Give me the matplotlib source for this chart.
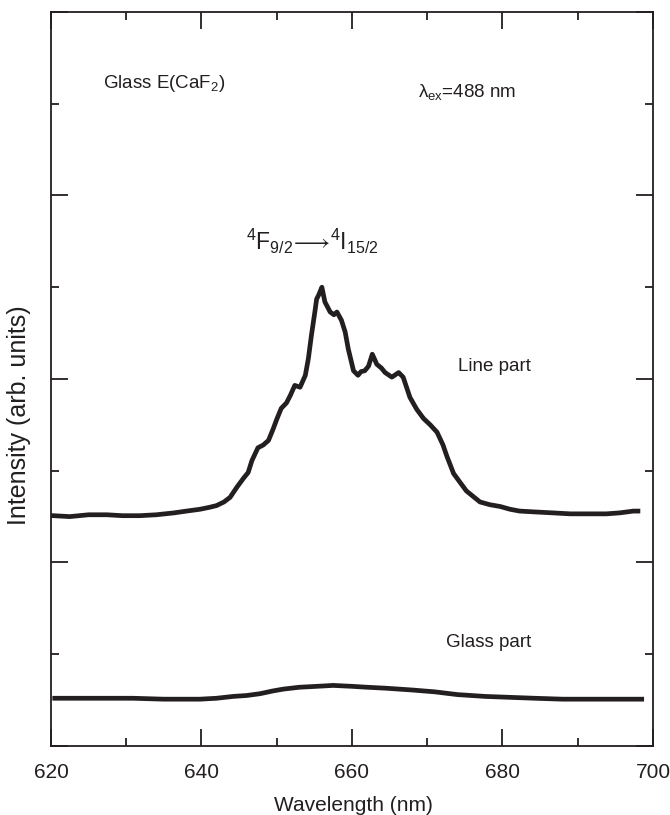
import matplotlib.pyplot as plt
from matplotlib.ticker import MultipleLocator

plt.rcParams['font.family'] = ['Liberation Sans', 'DejaVu Sans']
plt.rcParams['mathtext.fontset'] = 'custom'
plt.rcParams['mathtext.rm'] = 'Liberation Sans'
plt.rcParams['mathtext.it'] = 'Liberation Sans:italic'

line_wl = [620.3, 622.5, 625.0, 627.4, 629.5, 631.8, 634.0, 636.3, 638.0, 639.8,
           641.0, 642.0, 643.0, 643.8, 644.7, 645.6, 646.2, 646.7, 647.5, 648.2,
           648.9, 649.5, 650.0, 650.6, 651.3, 651.8, 652.4, 653.1, 653.8, 654.2,
           654.6, 655.1, 655.3, 655.6, 656.0, 656.4, 657.1, 657.6, 658.0, 658.6,
           659.1, 659.5, 660.2, 660.8, 661.2, 661.7, 662.2, 662.7, 663.3, 663.9,
           664.4, 665.3, 666.2, 666.8, 667.7, 668.6, 669.5, 670.4, 671.3, 672.1,
           672.6, 673.5, 674.3, 675.2, 676.1, 677.0, 678.3, 679.7, 681.0, 682.3,
           684.5, 686.8, 689.0, 691.2, 693.8, 695.5, 697.4, 698.0]
line_int = [2.51, 2.50, 2.52, 2.52, 2.51, 2.51, 2.52, 2.54, 2.56, 2.58,
            2.60, 2.62, 2.66, 2.71, 2.82, 2.92, 2.98, 3.11, 3.25, 3.28,
            3.33, 3.45, 3.56, 3.68, 3.74, 3.82, 3.93, 3.91, 4.04, 4.22,
            4.47, 4.75, 4.87, 4.92, 5.00, 4.84, 4.73, 4.70, 4.73, 4.64,
            4.51, 4.33, 4.09, 4.04, 4.08, 4.09, 4.14, 4.27, 4.16, 4.12,
            4.07, 4.02, 4.07, 4.02, 3.80, 3.67, 3.57, 3.50, 3.42, 3.28,
            3.16, 2.97, 2.88, 2.78, 2.72, 2.66, 2.63, 2.61, 2.58, 2.56,
            2.55, 2.54, 2.53, 2.53, 2.53, 2.54, 2.56, 2.56]

glass_wl = [620.5, 625.0, 630.9, 635.0, 639.8, 642.0, 644.2, 646.0, 647.8, 649.5,
            650.9, 653.0, 655.3, 657.5, 660.0, 662.0, 664.4, 668.0, 671.0, 674.0,
            677.7, 681.0, 684.3, 688.0, 691.0, 695.0, 698.5]
glass_int = [0.52, 0.52, 0.52, 0.51, 0.51, 0.52, 0.54, 0.55, 0.57, 0.60,
             0.62, 0.64, 0.65, 0.66, 0.65, 0.64, 0.63, 0.61, 0.59, 0.56,
             0.54, 0.53, 0.52, 0.51, 0.51, 0.51, 0.51]

ink = '#231f20'

fig = plt.figure(figsize=(6.7, 8.15), dpi=100)
ax = fig.add_axes([0.0761, 0.0847, 0.8985, 0.9006])

ax.plot(line_wl, line_int, color=ink, lw=3.4, solid_joinstyle='round')
ax.plot(glass_wl, glass_int, color=ink, lw=3.4, solid_joinstyle='round')

ax.set_xlim(620, 700)
ax.set_ylim(0, 8)
ax.xaxis.set_major_locator(MultipleLocator(20))
ax.xaxis.set_minor_locator(MultipleLocator(10))
ax.yaxis.set_major_locator(MultipleLocator(2))
ax.yaxis.set_minor_locator(MultipleLocator(1))
ax.tick_params(which='both', direction='in', top=True, right=True,
               width=1.3, color=ink, labelcolor=ink)
ax.tick_params(which='major', length=12, labelsize=15, pad=12)
ax.tick_params(which='minor', length=6)
ax.tick_params(axis='y', labelleft=False)
for s in ax.spines.values():
    s.set_linewidth(1.3)
    s.set_color(ink)

ax.set_xlabel('Wavelength (nm)', fontsize=15, color=ink)
ax.xaxis.set_label_coords(0.502, -0.068)
ax.set_ylabel('Intensity (arb. units)', fontsize=18, color=ink)
ax.yaxis.set_label_coords(-0.034, 0.45)

ax.text(626.9, 7.17, r'Glass E(CaF$_2$)', fontsize=13.5, color=ink)
ax.text(668.8, 7.07, r'$\mathregular{\lambda_{ex}}$=488 nm', fontsize=13.5, color=ink)
ax.text(654.7, 5.5, r'$\mathregular{^4F_{9/2}\!\longrightarrow\!^4I_{15/2}}$',
        fontsize=16.5, color=ink, ha='center', va='center')
ax.text(674.1, 4.14, 'Line part', fontsize=13.5, color=ink, va='center')
ax.text(672.5, 1.13, 'Glass part', fontsize=13.5, color=ink, va='center')

fig.savefig('out.png', dpi=100)
